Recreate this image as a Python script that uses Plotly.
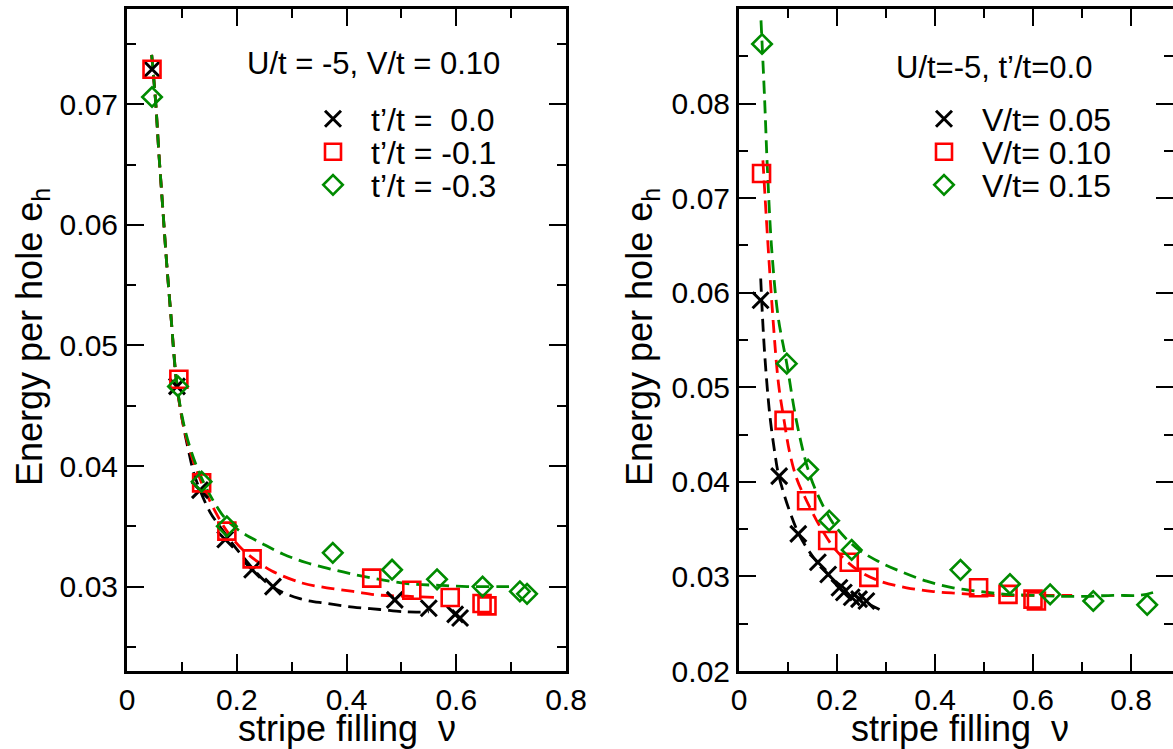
import plotly.graph_objects as go

# ---------------- data: left panel (U/t=-5, V/t=0.10) ----------------
L_series = ["t\u2019/t = \u00a00.0", "t\u2019/t = -0.1", "t\u2019/t = -0.3"]

LB_x = [0.0456, 0.091, 0.133, 0.179, 0.228, 0.266, 0.488, 0.550, 0.598, 0.607]
LB_y = [0.0729, 0.0466, 0.0380, 0.0339, 0.0314, 0.0300, 0.0289, 0.0282, 0.0277, 0.0274]
LR_x = [0.0456, 0.0945, 0.136, 0.182, 0.228, 0.446, 0.519, 0.589, 0.647, 0.656]
LR_y = [0.0729, 0.0472, 0.0386, 0.0346, 0.0323, 0.0307, 0.0297, 0.0291, 0.0286, 0.0284]
LG_x = [0.0456, 0.093, 0.136, 0.182, 0.375, 0.483, 0.565, 0.648, 0.716, 0.729]
LG_y = [0.0706, 0.0466, 0.0387, 0.0350, 0.0328, 0.0314, 0.0306, 0.0300, 0.0296, 0.0294]

# dashed fit curves
LBf_x = [0.045, 0.0525, 0.058, 0.065, 0.072, 0.080, 0.090, 0.100, 0.112, 0.124, 0.151, 0.169,
         0.209, 0.261, 0.315, 0.364, 0.412, 0.461, 0.510, 0.550]
LBf_y = [0.0741, 0.0700, 0.0660, 0.0615, 0.0570, 0.0525, 0.0470, 0.0440, 0.0413, 0.0391, 0.0362,
         0.0350, 0.0326, 0.0301, 0.0290, 0.0286, 0.0283, 0.0281, 0.0279, 0.0279]
LRf_x = [0.045, 0.0525, 0.058, 0.065, 0.072, 0.080, 0.090, 0.100, 0.115, 0.136, 0.160, 0.182,
         0.210, 0.240, 0.264, 0.319, 0.364, 0.412, 0.458, 0.510, 0.560]
LRf_y = [0.0741, 0.0700, 0.0660, 0.0615, 0.0570, 0.0525, 0.0472, 0.0440, 0.0412, 0.0386, 0.0363,
         0.0346, 0.0331, 0.0320, 0.0313, 0.0303, 0.0299, 0.0296, 0.0293, 0.0292, 0.0291]
LGf_x = [0.045, 0.0525, 0.058, 0.065, 0.072, 0.080, 0.090, 0.100, 0.115, 0.136, 0.160, 0.182,
         0.209, 0.245, 0.284, 0.326, 0.376, 0.424, 0.473, 0.522, 0.570, 0.620, 0.680, 0.705]
LGf_y = [0.0741, 0.0700, 0.0660, 0.0615, 0.0570, 0.0525, 0.0472, 0.0442, 0.0415, 0.0390, 0.0369,
         0.0355, 0.0345, 0.0336, 0.0327, 0.0320, 0.0314, 0.0309, 0.0305, 0.0302, 0.0301, 0.0300,
         0.0300, 0.0300]

# ---------------- data: right panel (U/t=-5, t'/t=0.0) ----------------
R_series = ["V/t= 0.05", "V/t= 0.10", "V/t= 0.15"]

RB_x = [0.044, 0.082, 0.121, 0.161, 0.182, 0.205, 0.214, 0.230, 0.245, 0.260]
RB_y = [0.0592, 0.0406, 0.0345, 0.0315, 0.0302, 0.0288, 0.0283, 0.0278, 0.0276, 0.0274]
RR_x = [0.046, 0.092, 0.138, 0.181, 0.225, 0.265, 0.489, 0.549, 0.600, 0.607]
RR_y = [0.0726, 0.0465, 0.0380, 0.0338, 0.0315, 0.0299, 0.0288, 0.0281, 0.0276, 0.0274]
RG_x = [0.047, 0.0975, 0.141, 0.184, 0.230, 0.452, 0.553, 0.635, 0.723, 0.833]
RG_y = [0.0863, 0.0525, 0.0413, 0.0359, 0.0328, 0.0307, 0.0292, 0.0281, 0.0274, 0.0270]

RBf_x = [0.0443, 0.050, 0.056, 0.063, 0.0727, 0.081, 0.104, 0.124, 0.152, 0.179, 0.206, 0.233,
         0.261, 0.298]
RBf_y = [0.0615, 0.0555, 0.0510, 0.0470, 0.0432, 0.0407, 0.0368, 0.0343, 0.0320, 0.0304, 0.0291,
         0.0281, 0.0272, 0.0262]
RRf_x = [0.0488, 0.0578, 0.0667, 0.0765, 0.082, 0.092, 0.103, 0.118, 0.138, 0.165, 0.199, 0.244,
         0.288, 0.342, 0.397, 0.451, 0.505, 0.600, 0.680]
RRf_y = [0.0740, 0.0662, 0.0592, 0.0525, 0.0498, 0.0465, 0.0432, 0.0403, 0.0380, 0.0353, 0.0327,
         0.0306, 0.0295, 0.0288, 0.0284, 0.0282, 0.0280, 0.0280, 0.0280]
RGf_x = [0.0449, 0.0524, 0.0578, 0.067, 0.080, 0.0975, 0.117, 0.141, 0.162, 0.195, 0.240, 0.284,
         0.331, 0.383, 0.437, 0.492, 0.546, 0.601, 0.655, 0.710, 0.764, 0.818, 0.845]
RGf_y = [0.0888, 0.0803, 0.0733, 0.0644, 0.0574, 0.0525, 0.0465, 0.0413, 0.0385, 0.0354, 0.0330,
         0.0316, 0.0305, 0.0295, 0.0288, 0.0284, 0.0281, 0.0280, 0.0279, 0.0279, 0.0280, 0.0280,
         0.0283]

# ---------------- styling ----------------
BLACK, RED, GREEN = "#000000", "#ff0000", "#008b00"
FONT = "Liberation Sans, Arial, Helvetica, sans-serif"
W, H = 1173, 749

fig = go.Figure()

def px_x(p):
    return p / W

def px_y(p):
    return 1 - p / H

sym = [("x-thin-open", 16, 3.0), ("square-open", 17, 2.6), ("diamond-open", 15, 2.6)]
colors = [BLACK, RED, GREEN]

left_marks = [(LB_x, LB_y), (LR_x, LR_y), (LG_x, LG_y)]
left_fits = [(LBf_x, LBf_y), (LRf_x, LRf_y), (LGf_x, LGf_y)]
right_marks = [(RB_x, RB_y), (RR_x, RR_y), (RG_x, RG_y)]
right_fits = [(RBf_x, RBf_y), (RRf_x, RRf_y), (RGf_x, RGf_y)]

for i in range(3):
    fx, fy = left_fits[i]
    fig.add_trace(go.Scatter(x=fx, y=fy, mode="lines", line=dict(color=colors[i], width=2.8,
                  dash="13px,7px", shape="spline"), showlegend=False, hoverinfo="skip",
                  xaxis="x", yaxis="y"))
    fx, fy = right_fits[i]
    fig.add_trace(go.Scatter(x=fx, y=fy, mode="lines", line=dict(color=colors[i], width=2.8,
                  dash="13px,7px", shape="spline"), showlegend=False, hoverinfo="skip",
                  xaxis="x2", yaxis="y2"))

legend_names = ["legend", "legend2", "legend3", "legend4", "legend5", "legend6"]
for i in range(3):
    s, sz, lw = sym[i]
    mx, my = left_marks[i]
    fig.add_trace(go.Scatter(x=mx, y=my, mode="markers", name=L_series[i],
                  marker=dict(symbol=s, size=sz, color=colors[i], line=dict(color=colors[i], width=lw)),
                  xaxis="x", yaxis="y", legend=legend_names[i]))
    mx, my = right_marks[i]
    fig.add_trace(go.Scatter(x=mx, y=my, mode="markers", name=R_series[i],
                  marker=dict(symbol=s, size=sz, color=colors[i], line=dict(color=colors[i], width=lw)),
                  xaxis="x2", yaxis="y2", legend=legend_names[i + 3]))

axis_common = dict(showline=True, linecolor="black", linewidth=3, mirror="ticks",
                   ticks="inside", ticklen=17, tickwidth=2.4, tickcolor="black",
                   showgrid=False, zeroline=False,
                   tickfont=dict(family=FONT, size=30, color="black"))
minor_common = dict(ticks="inside", ticklen=9, tickwidth=2.4, tickcolor="black")

y_dom = [px_y(671), px_y(9)]
fig.update_layout(
    width=W, height=H, margin=dict(l=0, r=0, t=0, b=0, autoexpand=False),
    plot_bgcolor="white", paper_bgcolor="white",
    font=dict(family=FONT, color="black"),
    xaxis=dict(domain=[px_x(127), px_x(566)], range=[0, 0.8], dtick=0.2, tick0=0,
               minor=dict(dtick=0.1, tick0=0, **minor_common), anchor="y", **axis_common),
    yaxis=dict(domain=y_dom, range=[0.023, 0.0779], dtick=0.01, tick0=0, tickformat=".2f",
               minor=dict(dtick=0.005, tick0=0, **minor_common), anchor="x", **axis_common),
    xaxis2=dict(domain=[px_x(739), 1.0], range=[0, (W - 739) / 490], dtick=0.2, tick0=0,
                minor=dict(dtick=0.1, tick0=0, **minor_common), anchor="y2", **axis_common),
    yaxis2=dict(domain=y_dom, range=[0.02, 0.09], dtick=0.01, tick0=0, tickformat=".2f",
                minor=dict(dtick=0.005, tick0=0, **minor_common), anchor="x2", **axis_common),
)

leg_font = dict(family=FONT, size=32, color="black")
rows = [119, 152, 185]
for i in range(3):
    fig.update_layout({legend_names[i]: dict(x=px_x(295), y=px_y(rows[i]), xanchor="left",
                       yanchor="middle", bgcolor="rgba(0,0,0,0)", borderwidth=0, font=leg_font,
                       itemwidth=66)})
    fig.update_layout({legend_names[i + 3]: dict(x=px_x(906), y=px_y(rows[i]), xanchor="left",
                       yanchor="middle", bgcolor="rgba(0,0,0,0)", borderwidth=0, font=leg_font,
                       itemwidth=66)})

title_font = dict(family=FONT, size=36, color="black")
ann = [
    dict(text="stripe filling  \u03bd", x=px_x(347), y=px_y(728), textangle=0),
    dict(text="stripe filling  \u03bd", x=px_x(960), y=px_y(728), textangle=0),
    dict(text="Energy per hole e<sub>h</sub>", x=px_x(32), y=px_y(337), textangle=-90),
    dict(text="Energy per hole e<sub>h</sub>", x=px_x(642), y=px_y(337), textangle=-90),
]
for a in ann:
    fig.add_annotation(xref="paper", yref="paper", showarrow=False, font=title_font,
                       xanchor="center", yanchor="middle", **a)

fig.add_annotation(text="U/t = -5, V/t = 0.10", xref="paper", yref="paper", x=px_x(245), y=px_y(63),
                   xanchor="left", yanchor="middle", showarrow=False,
                   font=dict(family=FONT, size=31, color="black"))
fig.add_annotation(text="U/t=-5, t\u2019/t=0.0", xref="paper", yref="paper", x=px_x(894), y=px_y(68),
                   xanchor="left", yanchor="middle", showarrow=False,
                   font=dict(family=FONT, size=31, color="black"))

fig.write_html("out.html")
